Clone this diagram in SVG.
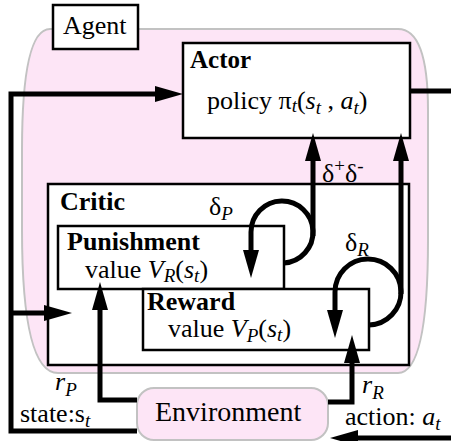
<svg xmlns="http://www.w3.org/2000/svg" width="451" height="441" viewBox="0 0 451 441">
<defs>
<marker id="ah" markerUnits="userSpaceOnUse" markerWidth="28" markerHeight="16" refX="2" refY="8" orient="auto">
<path d="M0,0 L28,8 L0,16 Z" fill="#000"/>
</marker>
<style>
text{fill:#000;font-size:26px;font-family:"Liberation Serif","Times New Roman",serif}
.b{font-weight:bold}
.i{font-style:italic}
.s{font-size:19px}
.box{fill:#fff;stroke:#000;stroke-width:2.5}
.pink{fill:#fde5f6;stroke:#c2c2c2;stroke-width:2}
.c{fill:none;stroke:#000;stroke-width:5}
.ca{fill:none;stroke:#000;stroke-width:5;marker-end:url(#ah)}
</style>
</defs>
<g id="agent">
<path class="pink" d="M50 29 L398 29 Q428 29 428 110 L428 240 Q428 373 398 373 L58 373 Q22 373 22 230 L22 150 Q22 29 50 29 Z"/>
<rect class="box" x="53" y="5" width="85" height="44"/>
<text x="63" y="34">Agent</text>
</g>
<g id="actor">
<rect class="box" x="183" y="43" width="227" height="95"/>
<text class="b" x="190" y="68" style="font-size:25px">Actor</text>
<text x="207" y="109">policy π<tspan class="i s" dy="3">t</tspan><tspan dy="-3">(</tspan><tspan class="i">s</tspan><tspan class="i s" dy="5">t</tspan><tspan dy="-5"> , </tspan><tspan class="i">a</tspan><tspan class="i s" dy="5">t</tspan><tspan dy="-5">)</tspan></text>
</g>
<g id="critic">
<rect class="box" x="48" y="184" width="361" height="181"/>
<text class="b" x="60" y="210">Critic</text>
</g>
<g id="punishment">
<rect class="box" x="58" y="226" width="226" height="63"/>
<text class="b" x="67" y="250">Punishment</text>
<text x="85" y="278">value <tspan class="i">V</tspan><tspan class="i s" dy="4">R</tspan><tspan dy="-4">(</tspan><tspan class="i">s</tspan><tspan class="i s" dy="4">t</tspan><tspan dy="-4">)</tspan></text>
</g>
<g id="reward">
<rect class="box" x="143" y="289" width="226" height="61"/>
<text class="b" x="147" y="310">Reward</text>
<text x="168" y="337">value <tspan class="i">V</tspan><tspan class="i s" dy="5">P</tspan><tspan dy="-5">(</tspan><tspan class="i">s</tspan><tspan class="i s" dy="4">t</tspan><tspan dy="-4">)</tspan></text>
</g>
<g id="environment">
<rect class="pink" x="137" y="388" width="191" height="52" rx="17"/>
<text x="155" y="421" style="font-size:28px">Environment</text>
</g>
<g id="connectors">
<path class="ca" d="M137 431 L11 431 L11 94 L157 94"/>
<path class="ca" d="M11 313 L46 313"/>
<path class="c" d="M410 91 L451 91"/>
<path class="ca" d="M451 438 L356 438"/>
<path class="ca" d="M137 400 L100 400 L100 308"/>
<path class="ca" d="M328 402 L352 402 L352 361"/>
<path class="ca" d="M284 263 A31 31 0 1 0 251 232 L251 252"/>
<path class="ca" d="M313 236 L313 159"/>
<path class="ca" d="M369 325 A33 33 0 1 0 335 292 L335 312"/>
<path class="ca" d="M401 294 L401 159"/>
<text x="209" y="215">δ<tspan class="i s" dy="5">P</tspan></text>
<text x="345" y="251">δ<tspan class="i s" dy="5">R</tspan></text>
<text x="322" y="182">δ<tspan class="s" dy="-10">+</tspan><tspan dy="10">δ</tspan><tspan class="s" dy="-10">-</tspan></text>
<text x="55" y="390" class="i">r<tspan class="s" dy="6">P</tspan></text>
<text x="20" y="422">state:s<tspan class="i s" dy="5">t</tspan></text>
<text x="362" y="393" class="i">r<tspan class="s" dy="6">R</tspan></text>
<text x="345" y="425">action: <tspan class="i">a</tspan><tspan class="i s" dy="5">t</tspan></text>
</g>
</svg>
